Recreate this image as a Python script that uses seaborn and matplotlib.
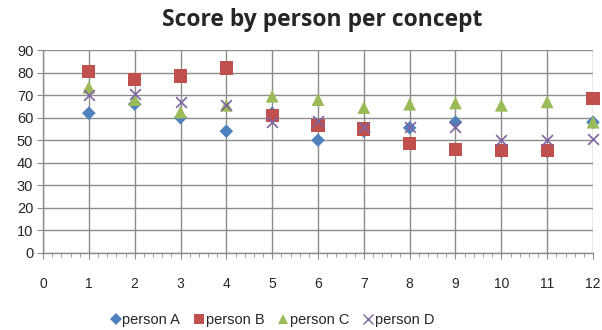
import matplotlib
matplotlib.use("Agg")
import matplotlib.pyplot as plt
from matplotlib.lines import Line2D
from matplotlib.ticker import MultipleLocator
import pandas as pd
import seaborn as sns

concepts = [1, 2, 3, 4, 5, 6, 7, 8, 9, 10, 11, 12]
person_a = [62, 66, 60, 54, 62, 50, 54, 55.5, 58, 45, 45, 58]
person_b = [80.5, 77, 78.5, 82, 61, 56.5, 55, 48.5, 46, 45.5, 45.5, 68.5]
person_c = [73.5, 68, 62.5, 65.5, 69.5, 68, 64.5, 66, 66.5, 65.5, 67, 58]
person_d = [70, 70.5, 67, 65.5, 58, 58.5, 56, 56, 56, 50, 50, 50.5]
names = ["person A", "person B", "person C", "person D"]

colors = {"person A": "#4F81BD", "person B": "#C0504D",
          "person C": "#9BBB59", "person D": "#8064A2"}
markers = {"person A": "D", "person B": "s", "person C": "^", "person D": "x"}
sizes = {"person A": 48, "person B": 90, "person C": 85, "person D": 60}

frames = []
for name, vals in zip(names, [person_a, person_b, person_c, person_d]):
    frames.append(pd.DataFrame({"concept": concepts, "score": vals, "person": name}))
df = pd.concat(frames, ignore_index=True)

sns.set_style("white")
plt.rcParams["font.family"] = ["Liberation Sans", "DejaVu Sans"]

fig = plt.figure(figsize=(6.02, 3.30), dpi=100)
ax = fig.add_axes([43 / 602, 77 / 330, 550 / 602, 203 / 330])

for name in names:
    sub = df[df["person"] == name]
    sns.scatterplot(data=sub, x="concept", y="score", ax=ax,
                    color=colors[name], marker=markers[name], s=sizes[name],
                    linewidth=1.2 if name == "person D" else 0,
                    edgecolor=colors[name] if name == "person D" else "none",
                    clip_on=False, zorder=3, legend=False)

ax.set_xlim(0, 12)
ax.set_ylim(0, 90)
ax.xaxis.set_major_locator(MultipleLocator(1))
ax.xaxis.set_minor_locator(MultipleLocator(0.2))
ax.yaxis.set_major_locator(MultipleLocator(10))
ax.grid(True, which="major", color="#8c8c8c", linewidth=1.0)
ax.set_axisbelow(True)
for side in ["top", "right"]:
    ax.spines[side].set_visible(False)
for side in ["left", "bottom"]:
    ax.spines[side].set_color("#8c8c8c")
    ax.spines[side].set_linewidth(1.0)
ax.tick_params(axis="x", which="both", direction="out", color="#8c8c8c",
               bottom=True, length=4, pad=13, labelsize=10)
ax.tick_params(axis="x", which="minor", length=3)
ax.tick_params(axis="y", direction="out", color="#8c8c8c", left=True,
               length=4, pad=3, labelsize=10.5)
ax.set_xlabel("")
ax.set_ylabel("")

ax.set_title("Score by person per concept", fontsize=16.5, fontweight="bold",
             family=["Open Sans", "DejaVu Sans"], x=(322 - 43) / 550, pad=17)

handles = [Line2D([], [], linestyle="none", marker=markers[n], color=colors[n],
                  markersize=7 if n != "person A" else 6,
                  markeredgewidth=1.0 if n == "person D" else 0)
           for n in names]
fig.legend(handles, names, loc="center", bbox_to_anchor=(272 / 602, 1 - 320 / 330),
           ncol=4, frameon=False, fontsize=10.5, handlelength=0.8,
           handletextpad=0.05, columnspacing=0.9)

fig.savefig("out.png", dpi=100)
